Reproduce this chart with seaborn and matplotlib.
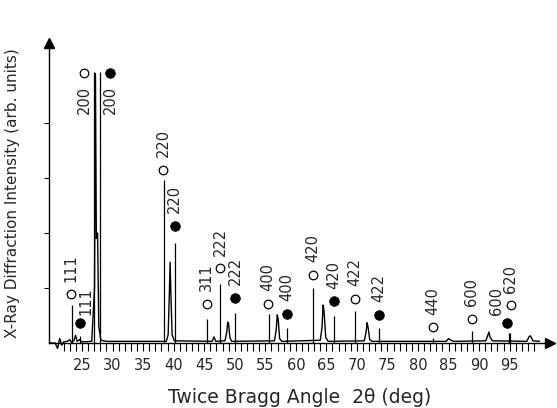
import numpy as np
import pandas as pd
import seaborn as sns
import matplotlib.pyplot as plt

spec_2theta = [19.8, 20.6, 21.0, 21.35, 21.7, 22.0, 22.6, 23.0, 23.3, 23.7, 23.95, 24.2, 24.6, 25.0,
               26.6, 27.05, 27.2, 27.35, 27.55, 27.75, 28.1, 29.0,
               38.8, 39.1, 39.3, 39.42, 39.55, 39.75, 40.1,
               46.3, 46.6, 46.9, 48.4, 48.7, 48.85, 49.0, 49.2, 49.5,
               56.5, 56.8, 56.95, 57.1, 57.35, 57.7,
               64.0, 64.3, 64.45, 64.6, 64.9, 65.3,
               71.2, 71.5, 71.65, 71.8, 72.1, 72.5,
               84.6, 85.0, 85.4, 85.8, 91.1, 91.45, 91.6, 91.8, 92.2,
               97.8, 98.2, 98.4, 98.8, 99.9]
spec_intensity = [0.0, 0.0, -0.1, 0.08, -0.04, 0.02, 0.03, 0.06, 0.01, 0.05, 0.14, 0.03, 0.06, 0.02,
                  0.03, 1.0, 4.9, 1.9, 2.0, 0.3, 0.05, 0.03,
                  0.03, 0.15, 0.9, 1.47, 0.9, 0.15, 0.04,
                  0.03, 0.11, 0.03, 0.04, 0.2, 0.38, 0.35, 0.1, 0.03,
                  0.04, 0.25, 0.51, 0.45, 0.08, 0.03,
                  0.05, 0.3, 0.69, 0.6, 0.1, 0.03,
                  0.04, 0.2, 0.37, 0.3, 0.06, 0.03,
                  0.03, 0.08, 0.05, 0.03, 0.04, 0.15, 0.2, 0.1, 0.04,
                  0.03, 0.12, 0.13, 0.04, 0.03]

# reference lines, phase drawn with open circles
open_hkl = ["111", "200", "220", "311", "222", "400", "420", "422", "440", "600", "620"]
open_pos = [23.4, 26.9, 38.4, 45.4, 47.6, 55.6, 62.8, 69.7, 82.5, 88.8, 95.1]
open_height = [0.69, 4.93, 2.96, 0.44, 1.07, 0.53, 1.0, 0.58, 0.09, 0.22, 0.18]
open_mark_x = [23.15, 25.4, 38.26, 45.4, 47.6, 55.45, 62.75, 69.7, 82.45, 88.8, 95.2]
open_mark_y = [0.89, 4.91, 3.15, 0.71, 1.36, 0.71, 1.24, 0.8, 0.29, 0.44, 0.69]

# reference lines, phase drawn with filled circles
filled_hkl = ["111", "200", "220", "222", "400", "420", "422", "600"]
filled_pos = [24.6, 28.0, 40.3, 50.0, 58.55, 66.2, 73.55, 94.9]
filled_height = [0.12, 4.93, 1.82, 0.55, 0.27, 0.49, 0.27, 0.18]
filled_mark_x = [24.75, 29.6, 40.2, 50.05, 58.5, 66.25, 73.55, 94.5]
filled_mark_y = [0.355, 4.91, 2.13, 0.82, 0.53, 0.76, 0.51, 0.355]

sns.set_theme(style="ticks")
plt.rcParams['font.family'] = ['DejaVu Sans']

fig = plt.figure(figsize=(5.57, 4.08), dpi=100)
ax = fig.add_axes([49 / 557, 65 / 408, 501 / 557, 300 / 408])

spec = pd.DataFrame({"two_theta": spec_2theta, "intensity": spec_intensity})
sns.lineplot(data=spec, x="two_theta", y="intensity", sort=False, estimator=None,
             color="black", linewidth=1.0, ax=ax, clip_on=False)

ax.vlines(open_pos, 0, open_height, color="black", linewidth=0.9)
ax.vlines(filled_pos, 0, filled_height, color="black", linewidth=0.9)

marks = pd.DataFrame({
    "x": open_mark_x + filled_mark_x,
    "y": open_mark_y + filled_mark_y,
    "phase": ["open"] * len(open_mark_x) + ["filled"] * len(filled_mark_x),
})
sns.scatterplot(data=marks[marks.phase == "open"], x="x", y="y", marker="o", s=38,
                facecolor="white", edgecolor="black", linewidth=0.9, ax=ax, zorder=5)
sns.scatterplot(data=marks[marks.phase == "filled"], x="x", y="y", marker="o", s=48,
                color="black", edgecolor="black", ax=ax, zorder=5)

# label offsets in points, where a label is not simply above its marker
open_offsets = {"200": (0, -9)}
filled_offsets = {"200": (0, -9), "111": (4, 6), "600": (-7, 6)}

for hkl, x, y in zip(open_hkl, open_mark_x, open_mark_y):
    dx, dy = open_offsets.get(hkl, (0, 9))
    ax.annotate(hkl, (x, y), xytext=(dx, dy), textcoords="offset points", rotation=90,
                ha="center", va="top" if dy < 0 else "bottom", fontsize=10.5)
for hkl, x, y in zip(filled_hkl, filled_mark_x, filled_mark_y):
    dx, dy = filled_offsets.get(hkl, (0, 9))
    ax.annotate(hkl, (x, y), xytext=(dx, dy), textcoords="offset points", rotation=90,
                ha="center", va="top" if dy < 0 else "bottom", fontsize=10.5)

ax.set_xlim(19.6, 101.6)
ax.set_ylim(0, 5.4545)
ax.set_xticks(np.arange(25, 100, 5))
ax.set_xticks(np.arange(22, 100, 1), minor=True)
ax.set_yticks([1, 2, 3, 4])
ax.set_yticklabels([])
ax.tick_params(axis="x", which="both", direction="out", length=5.5, width=0.8,
               labelsize=10.5, pad=5, color="black")
ax.tick_params(axis="y", direction="out", length=3.5, width=0.8, color="black")

for side in ["top", "right"]:
    ax.spines[side].set_visible(False)
for side in ["left", "bottom"]:
    ax.spines[side].set_linewidth(1.0)
    ax.spines[side].set_color("black")

ax.plot(1, 0, ">", color="black", markersize=7, transform=ax.transAxes, clip_on=False)
ax.plot(0, 1, "^", color="black", markersize=7, transform=ax.transAxes, clip_on=False)

ax.set_xlabel("Twice Bragg Angle  2θ (deg)", fontsize=13.5, labelpad=11)
ax.set_ylabel("X-Ray Diffraction Intensity (arb. units)", fontsize=11, labelpad=14)

fig.savefig("out.png", dpi=100, facecolor="white")
